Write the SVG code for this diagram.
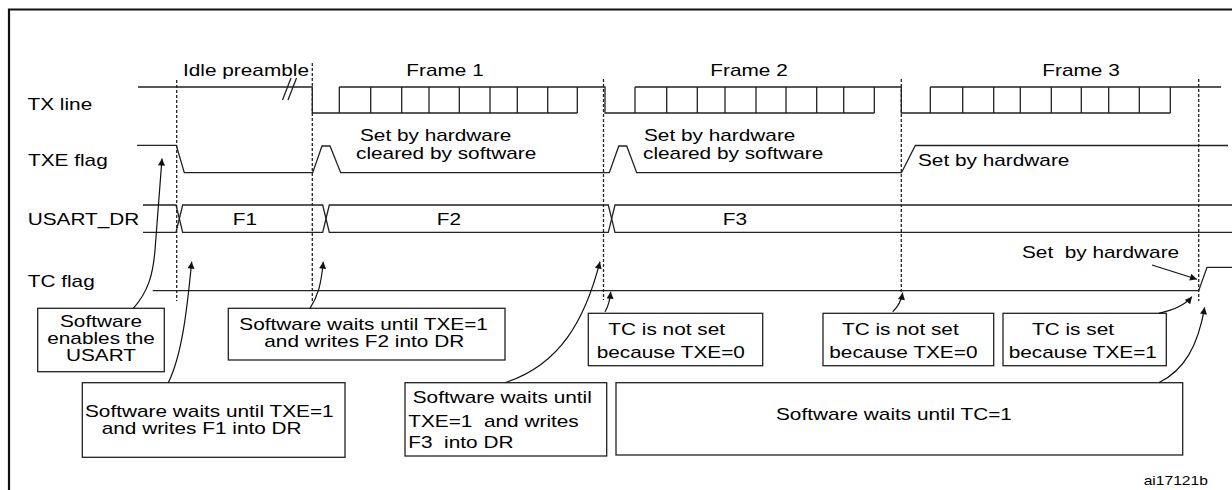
<svg xmlns="http://www.w3.org/2000/svg" width="1232" height="490" viewBox="0 0 1232 490">
<defs>
<style>
.t{font-family:"Liberation Sans",Arial,sans-serif;font-size:16px;fill:#000}
.s{font-family:"Liberation Sans",Arial,sans-serif;font-size:12px;fill:#000}
.m{text-anchor:middle}
.w{fill:none;stroke:#222;stroke-width:1.3}
.d{fill:none;stroke:#222;stroke-width:1.3;stroke-dasharray:3 2}
.b{fill:#fff;stroke:#222;stroke-width:1.3}
.a{fill:none;stroke:#111;stroke-width:1.2;marker-end:url(#ah)}
</style>
<marker id="ah" viewBox="0 0 10 10" refX="10" refY="5" markerWidth="8" markerHeight="7" markerUnits="userSpaceOnUse" orient="auto">
<path d="M0,0 L10,5 L0,10 z" fill="#111"/>
</marker>
</defs>
<rect width="1232" height="490" fill="#fff"/>
<g id="frame">
<path d="M9,490 V9.5 H1232" fill="none" stroke="#111" stroke-width="2.2"/>
</g>
<g id="guides">
<path class="d" d="M176.7,80 V301"/>
<path class="d" d="M312.3,63 V301"/>
<path class="d" d="M603.5,79 V300"/>
<path class="d" d="M901.3,79 V292"/>
<path class="d" d="M1198.7,79 V301"/>
</g>
<g id="tx-line">
<text class="t" transform="translate(27.5,110) scale(1.3,1)">TX line</text>
<path class="w" d="M138,87 H312.3 V113 H577.3 M339.3,87 H605 V113 H874.3 M635,87 H901.3 V113 H1170.3 M930.3,87 H1221"/>
<path class="w" d="M339.3,87 V113 M370.7,87 V113 M401.7,87 V113 M429,87 V113 M459.3,87 V113 M490,87 V113 M517.3,87 V113 M547.7,87 V113 M577.3,87 V113"/>
<path class="w" d="M635,87 V113 M666.7,87 V113 M697.3,87 V113 M725,87 V113 M756,87 V113 M786,87 V113 M816.7,87 V113 M843.7,87 V113 M874.3,87 V113"/>
<path class="w" d="M930.3,87 V113 M962.7,87 V113 M993.7,87 V113 M1020.3,87 V113 M1051.3,87 V113 M1081.3,87 V113 M1108.7,87 V113 M1139.3,87 V113 M1170.3,87 V113"/>
<path class="w" d="M282.5,100 L291,78 M288,100 L296.5,78"/>
<text class="t" transform="translate(183,76) scale(1.3,1)">Idle preamble</text>
<text class="t m" transform="translate(445,76) scale(1.3,1)">Frame 1</text>
<text class="t m" transform="translate(749,76) scale(1.3,1)">Frame 2</text>
<text class="t m" transform="translate(1081,76) scale(1.3,1)">Frame 3</text>
</g>
<g id="txe-flag">
<text class="t" transform="translate(28,165.7) scale(1.3,1)">TXE flag</text>
<path class="w" d="M137,145.3 H176.3 L184.3,172.7 H312.7 L322,146 H330 L340.7,172.7 H609.3 L618.8,146 H626.7 L636.7,172.7 H901.5 L915.3,145.5 H1228"/>
<text class="t" transform="translate(360,140.5) scale(1.3,1)">Set by hardware</text>
<text class="t" transform="translate(356,158.5) scale(1.3,1)">cleared by software</text>
<text class="t" transform="translate(644,140.5) scale(1.3,1)">Set by hardware</text>
<text class="t" transform="translate(643,158.5) scale(1.3,1)">cleared by software</text>
<text class="t" transform="translate(918,165.7) scale(1.3,1)">Set by hardware</text>
</g>
<g id="usart-dr">
<text class="t" transform="translate(27.7,225) scale(1.3,1)">USART_DR</text>
<path class="w" d="M143,205 H176 L182.7,232.3 H322.7 L329.3,205 H608.3 L615,232.3 H1232"/>
<path class="w" d="M143,232.3 H176 L182.7,205 H322.7 L329.3,232.3 H608.3 L615,205 H1232"/>
<text class="t m" transform="translate(245,225) scale(1.3,1)">F1</text>
<text class="t m" transform="translate(449,225) scale(1.3,1)">F2</text>
<text class="t m" transform="translate(735,225) scale(1.3,1)">F3</text>
</g>
<g id="tc-flag">
<text class="t" transform="translate(27.7,286.7) scale(1.3,1)">TC flag</text>
<path class="w" d="M152.7,290.7 H1198.7 L1207,267.3 H1232"/>
<text class="t" xml:space="preserve" transform="translate(1022,258.3) scale(1.3,1)">Set  by hardware</text>
</g>
<g id="note-enable">
<rect class="b" x="37.7" y="308.3" width="126.6" height="63.4"/>
<text class="t m" transform="translate(101,326.7) scale(1.3,1)">Software</text>
<text class="t m" transform="translate(101,344.3) scale(1.3,1)">enables the</text>
<text class="t m" transform="translate(101,361) scale(1.3,1)">USART</text>
</g>
<g id="note-f1">
<rect class="b" x="82.3" y="382.7" width="262.7" height="74.6"/>
<text class="t" transform="translate(85,417.3) scale(1.3,1)">Software waits until TXE=1</text>
<text class="t" transform="translate(101.7,434) scale(1.3,1)">and writes F1 into DR</text>
</g>
<g id="note-f2">
<rect class="b" x="228.3" y="308.3" width="276.7" height="51.7"/>
<text class="t" transform="translate(239.3,330) scale(1.3,1)">Software waits until TXE=1</text>
<text class="t" transform="translate(264.3,346.7) scale(1.3,1)">and writes F2 into DR</text>
</g>
<g id="note-f3">
<rect class="b" x="405" y="382.7" width="201.7" height="73.3"/>
<text class="t" transform="translate(412.7,403.3) scale(1.3,1)">Software waits until</text>
<text class="t" xml:space="preserve" transform="translate(408.3,426.7) scale(1.3,1)">TXE=1  and writes</text>
<text class="t" xml:space="preserve" transform="translate(408.3,448.3) scale(1.3,1)">F3  into DR</text>
</g>
<g id="note-tc-not-set-1">
<rect class="b" x="588.3" y="313.3" width="174.4" height="52.4"/>
<text class="t" transform="translate(608.3,335) scale(1.3,1)">TC is not set</text>
<text class="t" transform="translate(596.7,357.7) scale(1.3,1)">because TXE=0</text>
</g>
<g id="note-tc-not-set-2">
<rect class="b" x="823" y="313.3" width="170.7" height="52.4"/>
<text class="t" transform="translate(842,335) scale(1.3,1)">TC is not set</text>
<text class="t" transform="translate(829.3,357.7) scale(1.3,1)">because TXE=0</text>
</g>
<g id="note-tc-set">
<rect class="b" x="1003" y="313.3" width="163.3" height="52.4"/>
<text class="t" transform="translate(1032,335) scale(1.3,1)">TC is set</text>
<text class="t" transform="translate(1008.7,357.7) scale(1.3,1)">because TXE=1</text>
</g>
<g id="note-wait-tc">
<rect class="b" x="616" y="382.7" width="566.7" height="72.3"/>
<text class="t" transform="translate(776,420) scale(1.3,1)">Software waits until TC=1</text>
</g>
<g id="connectors">
<path class="a" d="M133.3,308.3 C148,292 153,275 155,250 L162,158.5"/>
<path class="a" d="M168.3,382.7 C182,355 187,310 191.7,261.7"/>
<path class="a" d="M310,308.3 C318,296 321,285 323.3,261.7"/>
<path class="a" d="M505,382.7 C560,365 585,320 600,261.7"/>
<path class="a" d="M605,311.7 C609,305 610,300 610.7,291.7"/>
<path class="a" d="M892.7,311.7 C898,307 901,302 902.7,292.7"/>
<path class="a" d="M1158.7,313.3 C1175,310 1185,305 1192,296.7"/>
<path class="a" d="M1158.7,382.7 C1185,370 1198,345 1204.7,307.3"/>
<path class="a" d="M1152,265 L1197,279.3"/>
</g>
<text class="s" transform="translate(1143.7,485) scale(1.3,1)">ai17121b</text>
</svg>
